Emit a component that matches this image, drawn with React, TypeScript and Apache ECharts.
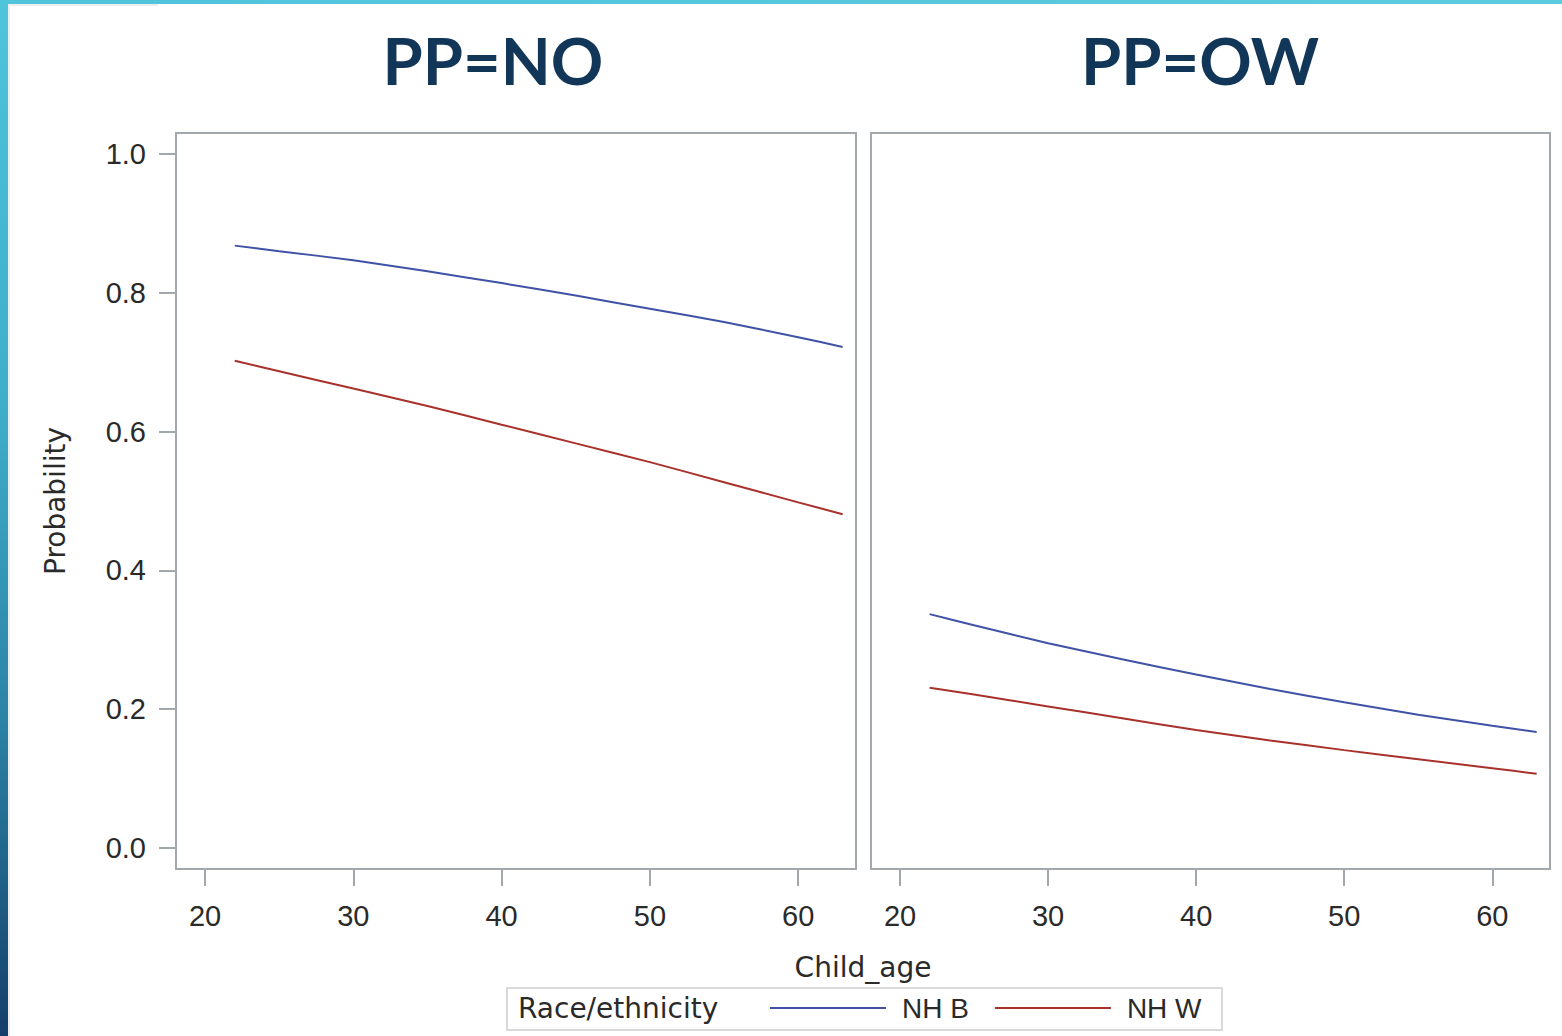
import React, { useEffect, useRef } from "react";
import * as echarts from "echarts";

const AGES = [22, 25, 30, 35, 40, 45, 50, 55, 60, 63];
const NO_NHB = [0.868, 0.86, 0.847, 0.831, 0.814, 0.796, 0.777, 0.758, 0.736, 0.722];
const NO_NHW = [0.702, 0.687, 0.662, 0.637, 0.61, 0.583, 0.556, 0.527, 0.498, 0.481];
const OW_NHB = [0.337, 0.321, 0.295, 0.272, 0.25, 0.229, 0.21, 0.192, 0.176, 0.167];
const OW_NHW = [0.231, 0.221, 0.204, 0.187, 0.17, 0.155, 0.141, 0.128, 0.115, 0.107];
const X_TICKS = [20, 30, 40, 50, 60];
const Y_TICKS = [0, 0.2, 0.4, 0.6, 0.8, 1.0];
const PANEL_TITLES = ["PP=NO", "PP=OW"];
const LEGEND_TITLE = "Race/ethnicity";
const SERIES_NAMES = ["NH B", "NH W"];
const X_NAME = "Child_age";
const Y_NAME = "Probability";

const BLUE = "#3f52a6";
const RED = "#a8322b";
const AXIS_GREY = "#a3a8ad";
const TEXT = "#2a2a2a";
const FONT = "'Liberation Sans', Arial, sans-serif";
const NAME_FONT = "'DejaVu Sans', 'Liberation Sans', sans-serif";

export default function App() {
  const ref = useRef<HTMLDivElement>(null);
  useEffect(() => {
    document.body.style.margin = "0";
    const chart = echarts.init(ref.current!, null, { renderer: "svg" });
    const pair = (vals: number[]) => AGES.map((a, i) => [a, vals[i]]);
    const xAxisBase = (gi: number) => ({
      type: "value",
      gridIndex: gi,
      min: 18.04,
      max: 63.9,
      splitLine: { show: false },
      axisLine: { show: true, onZero: false, lineStyle: { color: AXIS_GREY, width: 2 } },
      axisTick: {
        show: true,
        length: 17,
        customValues: X_TICKS,
        lineStyle: { color: AXIS_GREY, width: 2 },
      },
      axisLabel: {
        customValues: X_TICKS,
        margin: 32,
        color: TEXT,
        fontSize: 29,
        fontFamily: FONT,
      },
    });
    const yAxisBase = (gi: number, showLabels: boolean) => ({
      type: "value",
      gridIndex: gi,
      min: -0.0303,
      max: 1.0303,
      splitLine: { show: false },
      axisLine: { show: true, onZero: false, lineStyle: { color: AXIS_GREY, width: 2 } },
      axisTick: {
        show: showLabels,
        length: 17,
        customValues: Y_TICKS,
        lineStyle: { color: AXIS_GREY, width: 2 },
      },
      axisLabel: {
        show: showLabels,
        customValues: Y_TICKS,
        margin: 30,
        color: TEXT,
        fontSize: 29,
        fontFamily: FONT,
        formatter: (v: number) => v.toFixed(1),
      },
    });
    const lineSeries = (name: string, gi: number, vals: number[], color: string) => ({
      type: "line",
      name,
      xAxisIndex: gi,
      yAxisIndex: gi,
      data: pair(vals),
      showSymbol: false,
      symbol: "none",
      smooth: 0.2,
      lineStyle: { color, width: 2 },
      itemStyle: { color },
    });
    const titleText = (text: string, x: number) => ({
      type: "text",
      x,
      y: 60,
      style: {
        text,
        fill: "#123658",
        font: "bold 65px Lato, 'Open Sans', sans-serif",
        align: "center",
        verticalAlign: "middle",
      },
    });
    chart.setOption({
      animation: false,
      backgroundColor: "#ffffff",
      grid: [
        { left: 176, top: 133, width: 680, height: 736, show: true, borderColor: AXIS_GREY, borderWidth: 2 },
        { left: 871, top: 133, width: 679, height: 736, show: true, borderColor: AXIS_GREY, borderWidth: 2 },
      ],
      xAxis: [xAxisBase(0), xAxisBase(1)],
      yAxis: [yAxisBase(0, true), yAxisBase(1, false)],
      legend: {
        data: SERIES_NAMES,
        left: 770,
        top: 994,
        padding: 0,
        icon: "rect",
        itemWidth: 116,
        itemHeight: 2,
        itemGap: 26,
        textStyle: { color: TEXT, fontSize: 28, fontFamily: FONT, padding: [0, 0, 0, 11] },
        selectedMode: false,
      },
      series: [
        lineSeries(SERIES_NAMES[0], 0, NO_NHB, BLUE),
        lineSeries(SERIES_NAMES[1], 0, NO_NHW, RED),
        lineSeries(SERIES_NAMES[0], 1, OW_NHB, BLUE),
        lineSeries(SERIES_NAMES[1], 1, OW_NHW, RED),
      ],
      graphic: [
        {
          type: "rect",
          shape: { x: 0, y: 0, width: 8, height: 1036 },
          style: {
            fill: new echarts.graphic.LinearGradient(0, 0, 0, 1, [
              { offset: 0, color: "#4fc4db" },
              { offset: 0.4, color: "#3eadc9" },
              { offset: 0.7, color: "#2b82a4" },
              { offset: 1, color: "#143f69" },
            ]),
          },
          silent: true,
        },
        {
          type: "rect",
          shape: { x: 8, y: 0, width: 2, height: 1036 },
          style: { fill: "#eeeeee" },
          silent: true,
        },
        {
          type: "rect",
          shape: { x: 0, y: 0, width: 1562, height: 4 },
          style: {
            fill: new echarts.graphic.LinearGradient(0, 0, 1, 0, [
              { offset: 0, color: "#4fc4db" },
              { offset: 1, color: "#5ccbdd" },
            ]),
          },
          silent: true,
        },
        {
          type: "rect",
          shape: { x: 10, y: 4, width: 148, height: 2 },
          style: { fill: "#eeeeee" },
          silent: true,
        },
        titleText(PANEL_TITLES[0], 493),
        titleText(PANEL_TITLES[1], 1200),
        {
          type: "text",
          x: 863,
          y: 967,
          style: {
            text: X_NAME,
            fill: TEXT,
            font: `28px ${NAME_FONT}`,
            align: "center",
            verticalAlign: "middle",
          },
        },
        {
          type: "text",
          x: 55,
          y: 501,
          rotation: Math.PI / 2,
          style: {
            text: Y_NAME,
            fill: TEXT,
            font: `28px ${NAME_FONT}`,
            align: "center",
            verticalAlign: "middle",
          },
        },
        {
          type: "rect",
          shape: { x: 507, y: 988, width: 715, height: 42 },
          style: { fill: "none", stroke: "#d9d9d9", lineWidth: 2 },
          silent: true,
        },
        {
          type: "text",
          x: 518,
          y: 1008,
          style: {
            text: LEGEND_TITLE,
            fill: TEXT,
            font: `28px ${NAME_FONT}`,
            align: "left",
            verticalAlign: "middle",
          },
        },
      ],
    });
    return () => chart.dispose();
  }, []);
  return (
    <div
      ref={ref}
      style={{ position: "absolute", left: 0, top: 0, width: 1562, height: 1036 }}
    />
  );
}
